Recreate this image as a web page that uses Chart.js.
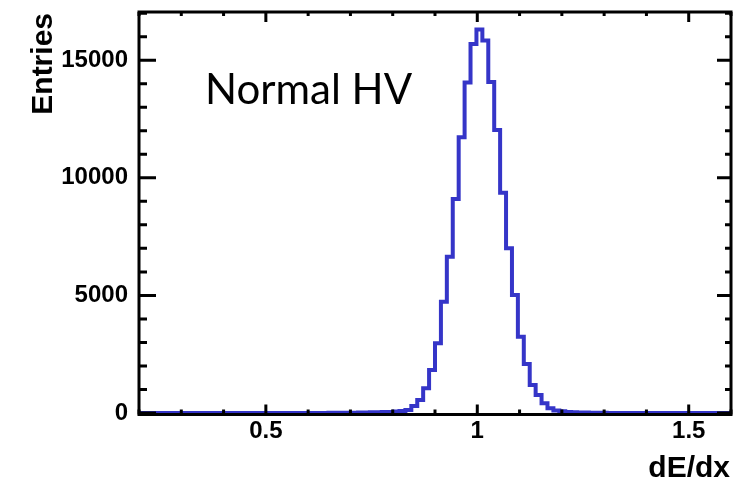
<!DOCTYPE html>
<html>
<head>
<meta charset="utf-8">
<title>dE/dx - Normal HV</title>
<script src="https://cdn.jsdelivr.net/npm/chart.js@4.4.1/dist/chart.umd.min.js"></script>
<style>
    html, body { margin: 0; padding: 0; background: #fff; }
    #wrap { width: 749px; height: 482px; }
</style>
</head>
<body>
<div id="wrap"><canvas id="dedxChart" width="749" height="482"></canvas></div>
<script>
// Binning: 100 bins of 0.014 from 0.2 to 1.6
const binLow = 0.2;
const binWidth = 0.014;

// Bin contents
const entries = [
    0, 0, 0, 0, 0, 0, 0, 0, 0, 0,
    0, 0, 0, 0, 0, 0, 0, 0, 0, 0,
    0, 0, 0, 0, 0, 1, 1, 2, 2, 3,
    4, 5, 6, 8, 10, 12, 15, 18, 22, 30,
    34, 38, 46, 60, 85, 128, 298, 553, 1050, 1828,
    2964, 4732, 6646, 9099, 11723, 14053, 15690, 16306, 15839, 14074,
    12033, 9367, 7003, 5017, 3244, 2083, 1190, 765, 412, 200,
    110, 75, 45, 30, 22, 16, 12, 9, 7, 5,
    4, 3, 3, 2, 2, 1, 1, 0, 0, 0,
    0, 0, 0, 0, 0, 0, 0, 0, 0, 0
];

const xTickLabels = [0.5, 1, 1.5];
const yTickLabels = [0, 5000, 10000, 15000];
const xRange = [0.2, 1.6];
const yRange = [0, 17050];

const lineColor = '#3535c8';

document.addEventListener('DOMContentLoaded', () => {
    renderHistogram();
});

//Step outline points (lower bin edges + closing point)
function histPoints() {
    const pts = entries.map((v, i) => ({ x: binLow + i * binWidth, y: v }));
    pts.push({ x: binLow + entries.length * binWidth, y: entries[entries.length - 1] });
    return pts;
}

//ROOT style frame with inward ticks
const rootFrame = {
    id: 'rootFrame',
    afterDraw(chart) {
        const { ctx, chartArea } = chart;
        const xs = chart.scales.x;
        const ys = chart.scales.y;
        const left = chartArea.left, right = chartArea.right;
        const top = chartArea.top, bottom = chartArea.bottom + 1.5;

        ctx.save();
        ctx.strokeStyle = '#000';
        ctx.lineWidth = 3;
        ctx.beginPath();
        ctx.rect(left, top, right - left, bottom - top);
        ctx.stroke();

        ctx.beginPath();
        // x ticks every 0.1
        for (let i = 2; i <= 16; i++) {
            const px = xs.getPixelForValue(i / 10);
            const major = i % 5 === 0;
            ctx.moveTo(px, bottom);
            ctx.lineTo(px, bottom - (major ? 10 : 5));
            ctx.moveTo(px, top);
            ctx.lineTo(px, top + (major ? 10 : 4));
        }
        // y ticks every 1000
        for (let v = 0; v <= 17000; v += 1000) {
            const py = ys.getPixelForValue(v);
            const major = v % 5000 === 0;
            ctx.moveTo(left, py);
            ctx.lineTo(left + (major ? 17 : 8), py);
            ctx.moveTo(right, py);
            ctx.lineTo(right - (major ? 14 : 6), py);
        }
        ctx.stroke();

        // texts
        ctx.fillStyle = '#000';
        ctx.font = '42px Lato, "Open Sans", sans-serif';
        ctx.textAlign = 'left';
        ctx.textBaseline = 'alphabetic';
        ctx.fillText('Normal HV', 205, 104);

        ctx.font = 'bold 30px "Liberation Sans", Arial, sans-serif';
        ctx.textAlign = 'right';
        ctx.fillText('dE/dx', 730, 477);

        ctx.translate(52, 13);
        ctx.rotate(-Math.PI / 2);
        ctx.textAlign = 'right';
        ctx.fillText('Entries', 0, 0);
        ctx.restore();
    }
};

//Histogram
function renderHistogram() {
    const ctx = document.getElementById('dedxChart').getContext('2d');
    const tickFont = { family: '"Liberation Sans", Arial, sans-serif', weight: 'bold', size: 24 };

    const histChart = new Chart(ctx, {
        type: 'line',
        data: {
            datasets: [{
                label: 'dE/dx',
                data: histPoints(),
                stepped: true,
                borderColor: lineColor,
                borderWidth: 4,
                pointRadius: 0,
                fill: false
            }]
        },
        options: {
            responsive: false,
            animation: false,
            devicePixelRatio: 1,
            layout: {
                padding: { top: 12, right: 18, left: 0, bottom: 0 }
            },
            plugins: {
                legend: { display: false },
                tooltip: { enabled: false }
            },
            scales: {
                x: {
                    type: 'linear',
                    min: xRange[0],
                    max: xRange[1],
                    grid: { display: false, drawTicks: false },
                    border: { display: false },
                    afterBuildTicks: scale => {
                        scale.ticks = xTickLabels.map(v => ({ value: v }));
                    },
                    afterFit: scale => {
                        scale.height = 69;
                        scale.paddingLeft = 0;
                        scale.paddingRight = 0;
                    },
                    ticks: {
                        font: tickFont,
                        color: '#000',
                        padding: 4,
                        maxRotation: 0,
                        autoSkip: false,
                        callback: v => String(v)
                    }
                },
                y: {
                    type: 'linear',
                    min: yRange[0],
                    max: yRange[1],
                    grid: { display: false, drawTicks: false },
                    border: { display: false },
                    afterBuildTicks: scale => {
                        scale.ticks = yTickLabels.map(v => ({ value: v }));
                    },
                    afterFit: scale => {
                        scale.width = 139;
                        scale.paddingTop = 0;
                        scale.paddingBottom = 0;
                    },
                    ticks: {
                        font: tickFont,
                        color: '#000',
                        padding: 11,
                        autoSkip: false,
                        callback: v => String(v)
                    }
                }
            }
        },
        plugins: [rootFrame]
    });
}
</script>
</body>
</html>
